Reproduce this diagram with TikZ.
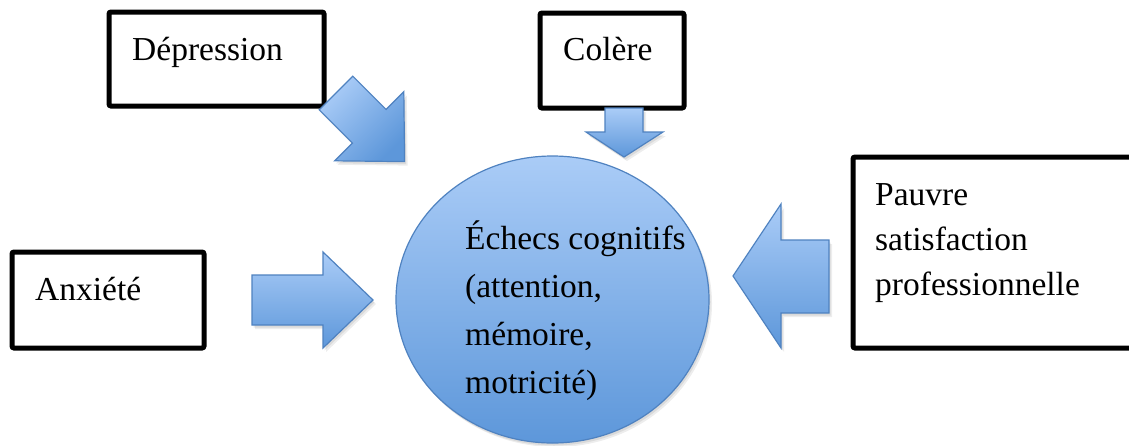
\documentclass[tikz,border=0pt]{standalone}
\usepackage{fontspec}
\setmainfont{Liberation Serif}
\usetikzlibrary{shapes.geometric}
\begin{document}
\begin{tikzpicture}[x=1pt,y=-1pt,
  box/.style={draw=black,line width=5pt,rounded corners=2pt,fill=white,inner sep=0pt},
  lbl/.style={anchor=base west,inner sep=0pt,align=left,
    font=\fontsize{33.5}{45}\selectfont},
  shadowed/.style={
    preaction={fill=black,opacity=0.07,transform canvas={shift={(3,4)}}},
    preaction={fill=black,opacity=0.08,transform canvas={shift={(1.5,2.5)}}}},
  blockarrow/.style={shadowed,draw=arrowline,line width=1.2pt,line join=miter,
    top color=blocktop,bottom color=blockbot},
  diagarrow/.style={shadowed,draw=arrowline,line width=1.2pt,line join=miter,
    shading=axis,left color=blocktop,right color=blockbot,shading angle=45},
]
\definecolor{blocktop}{HTML}{AACCF7}
\definecolor{blockbot}{HTML}{5D97DA}
\definecolor{arrowline}{HTML}{4F82C0}

\useasboundingbox (0,0) rectangle (1129,445);
\clip (0,0) rectangle (1129,445);
\fill[white] (0,0) rectangle (1129,445);

% Factor boxes
\node[box,minimum width=215pt,minimum height=94pt] (depbox) at (216.5,59) {};
\node[box,minimum width=144pt,minimum height=95pt] (colbox) at (612,60.5) {};
\node[box,minimum width=192pt,minimum height=96pt] (anxbox) at (108,300) {};
\node[box,minimum width=287pt,minimum height=191pt] (paubox) at (996.5,252.5) {};

% Labels: the base anchor of a multi-line node sits on its last line
\node[lbl] (dep) at (132,60) {Dépression};
\node[lbl] (col) at (563,60) {Colère};
\node[lbl] (anx) at (35,300) {Anxiété};
\node[lbl] (pau) at (875,295) {Pauvre\\satisfaction\\professionnelle};

% Central outcome
\node[shadowed,draw=arrowline,line width=1.2pt,top color=blocktop,bottom color=blockbot,
  ellipse,minimum width=313pt,minimum height=287pt,inner sep=0pt] (core) at (552.5,299.5) {};
\node[lbl,font=\fontsize{33.5}{47.7}\selectfont] (coretxt) at (465,393)
  {Échecs cognitifs\\(attention,\\mémoire,\\motricité)};

% Block arrows pointing at the centre
\path[diagarrow] (352.8,76.2) -- (386,109.4) -- (403.8,91.6) -- (404.6,161.6)
  -- (334.6,160.8) -- (352.4,143) -- (319.2,109.8) -- cycle;
\path[blockarrow] (605,108) -- (643,108) -- (643,132) -- (663,132) -- (624,157)
  -- (586,132) -- (605,132) -- cycle;
\path[blockarrow] (252,275) -- (323,275) -- (323,252) -- (373,300) -- (323,348)
  -- (323,325) -- (252,325) -- cycle;
\path[blockarrow] (829,240) -- (781,240) -- (781,204) -- (733,276) -- (781,348)
  -- (781,313) -- (829,313) -- cycle;
\end{tikzpicture}
\end{document}
